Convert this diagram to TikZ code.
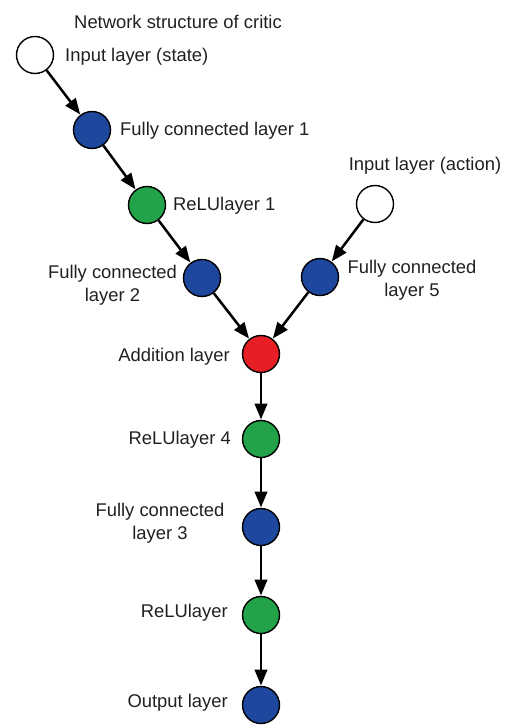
\documentclass[tikz,border=0pt]{standalone}
\usepackage{fontspec}
\setmainfont{Liberation Sans}
\usetikzlibrary{arrows.meta}
\definecolor{layerblue}{RGB}{30,72,158}
\definecolor{layergreen}{RGB}{34,163,74}
\definecolor{layerred}{RGB}{232,30,38}
\definecolor{labeltext}{RGB}{35,31,32}
\begin{document}
\begin{tikzpicture}[x=1pt,y=-1pt,
  layer/.style={circle,draw=black,line width=1.4pt,minimum size=37pt,inner sep=0pt},
  inputnode/.style={layer,fill=white},
  fcnode/.style={layer,fill=layerblue},
  relunode/.style={layer,fill=layergreen},
  addnode/.style={layer,fill=layerred},
  lbl/.style={font=\fontsize{18.4}{23.5}\selectfont,text=labeltext,inner sep=0pt,align=center},
  flow/.style={-{Triangle[length=16pt,width=12.5pt]},line width=2.5pt,shorten >=0.3pt}]
\useasboundingbox (0,0) rectangle (509,725);

% layers
\node[inputnode] (ins) at (35,55) {};
\node[fcnode]    (fc1) at (92,130) {};
\node[relunode]  (r1)  at (147,205) {};
\node[fcnode]    (fc2) at (202,278) {};
\node[inputnode] (ina) at (375,204) {};
\node[fcnode]    (fc5) at (320,277) {};
\node[addnode]   (add) at (261,354) {};
\node[relunode]  (r4)  at (261,439) {};
\node[fcnode]    (fc3) at (261,527) {};
\node[relunode]  (r5)  at (261,615) {};
\node[fcnode]    (out) at (261,705) {};

% labels
\node[lbl,anchor=center] (title) at (178,22) {Network structure of critic};
\node[lbl,anchor=west] (tins) at (65,57) {Input layer (state)};
\node[lbl,anchor=west] (tfc1) at (120,131) {Fully connected layer 1};
\node[lbl,anchor=west] (tr1) at (173,206) {ReLUlayer 1};
\node[lbl] (tfc2) at (112.5,285) {Fully connected\\layer 2};
\node[lbl] (tina) at (425,166) {Input layer (action)};
\node[lbl] (tfc5) at (412,280) {Fully connected\\layer 5};
\node[lbl,anchor=east] (tadd) at (230,357) {Addition layer};
\node[lbl,anchor=east] (tr4) at (231,440) {ReLUlayer 4};
\node[lbl] (tfc3) at (160,523) {Fully connected\\layer 3};
\node[lbl,anchor=east] (tr5) at (228,613) {ReLUlayer};
\node[lbl,anchor=east] (tout) at (228,703) {Output layer};

% connections
\draw[flow] (ins) -- (fc1);
\draw[flow] (fc1) -- (r1);
\draw[flow] (r1) -- (fc2);
\draw[flow] (fc2) -- (add);
\draw[flow] (ina) -- (fc5);
\draw[flow] (fc5) -- (add);
\draw[flow] (add) -- (r4);
\draw[flow] (r4) -- (fc3);
\draw[flow] (fc3) -- (r5);
\draw[flow] (r5) -- (out);
\end{tikzpicture}
\end{document}
